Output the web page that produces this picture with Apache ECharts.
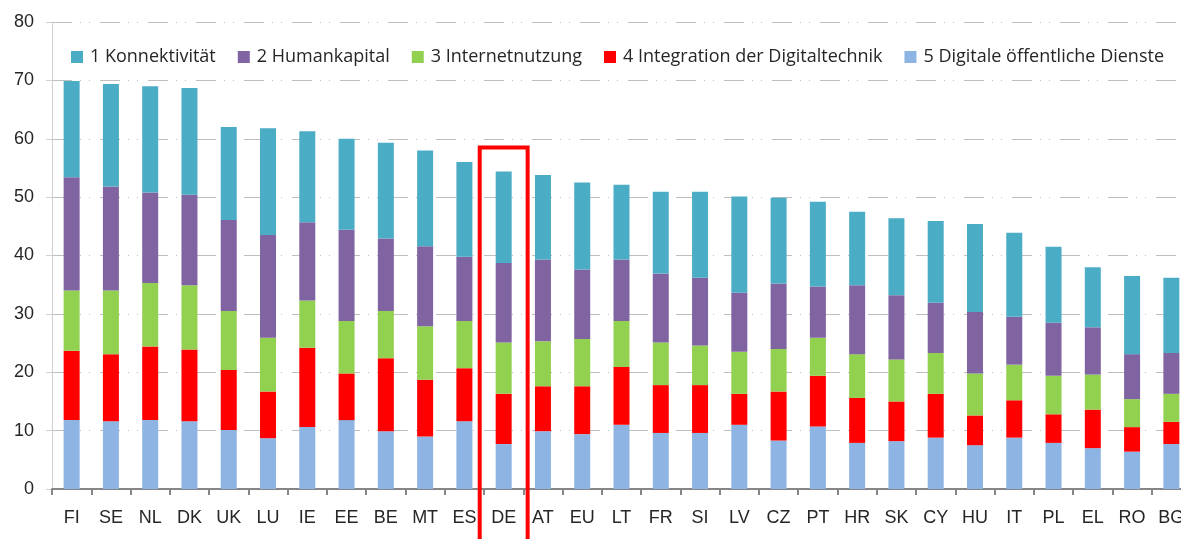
<!DOCTYPE html>
<html>
<head>
<meta charset="utf-8">
<script src="https://cdn.jsdelivr.net/npm/echarts@6/dist/echarts.min.js"></script>
<style>
  html, body { margin: 0; padding: 0; background: #fff; }
  #main { width: 1181px; height: 539px; }
</style>
</head>
<body>
<div id="main"></div>
<script>
// Länder (sortiert nach Gesamtwert)
var countries = ['FI','SE','NL','DK','UK','LU','IE','EE','BE','MT','ES','DE','AT','EU','LT','FR','SI','LV','CZ','PT','HR','SK','CY','HU','IT','PL','EL','RO','BG'];

// Werte je Dimension, von unten nach oben gestapelt
var dienste      = [11.8,11.6,11.8,11.6,10.1, 8.7,10.6,11.8, 9.9, 9.0,11.6, 7.7, 9.9, 9.4,11.0, 9.6, 9.6,11.0, 8.3,10.7, 7.9, 8.2, 8.8, 7.5, 8.8, 7.9, 7.0, 6.4, 7.7];
var integration  = [11.9,11.5,12.6,12.3,10.3, 8.0,13.6, 8.0,12.5, 9.7, 9.1, 8.6, 7.7, 8.2, 9.9, 8.2, 8.2, 5.3, 8.4, 8.7, 7.7, 6.8, 7.5, 5.1, 6.4, 4.9, 6.6, 4.2, 3.8];
var internet     = [10.3,10.9,10.9,11.0,10.1, 9.2, 8.1, 9.0, 8.1, 9.2, 8.1, 8.8, 7.7, 8.1, 7.9, 7.3, 6.8, 7.2, 7.3, 6.5, 7.5, 7.2, 7.0, 7.2, 6.1, 6.6, 6.0, 4.8, 4.8];
var humankapital = [19.4,17.8,15.5,15.5,15.6,17.6,13.4,15.6,12.4,13.7,11.0,13.6,14.0,11.9,10.5,11.8,11.6,10.1,11.2, 8.8,11.8,11.0, 8.6,10.5, 8.2, 9.1, 8.1, 7.7, 7.0];
var konnekt      = [16.5,17.6,18.2,18.3,15.9,18.3,15.6,15.6,16.4,16.4,16.2,15.7,14.5,14.9,12.8,14.0,14.7,16.5,14.7,14.5,12.6,13.2,14.0,15.1,14.4,13.0,10.3,13.4,12.9];

var names = ['1 Konnektivität','2 Humankapital','3 Internetnutzung','4 Integration der Digitaltechnik','5 Digitale öffentliche Dienste'];
var colors = ['#4BACC6','#8064A2','#92D050','#FF0000','#8DB4E2'];
var highlight = 'DE';

var font = 'Liberation Sans';

function bar(name, data, color) {
    return {
        name: name,
        type: 'bar',
        stack: 'gesamt',
        barWidth: 16,
        data: data,
        itemStyle: { color: color },
        emphasis: { disabled: true }
    };
}

var myChart = echarts.init(document.getElementById('main'));

var option = {
    animation: false,
    textStyle: { fontFamily: font },
    legend: {
        data: names,
        left: 66,
        top: 43,
        itemWidth: 12,
        itemHeight: 12,
        itemGap: 22,
        icon: 'rect',
        textStyle: { fontSize: 18, color: '#262626', fontFamily: 'Open Sans', padding: [0, 0, 0, 2] }
    },
    grid: {
        left: 52,
        top: 22,
        width: 1139,
        bottom: 50,
        outerBoundsMode: 'none'
    },
    xAxis: {
        type: 'category',
        data: countries,
        axisLine: { lineStyle: { color: '#868686', width: 2 } },
        axisTick: { show: true, length: 6, lineStyle: { color: '#868686', width: 2 } },
        axisLabel: { fontSize: 18, color: '#262626', margin: 20, interval: 0 }
    },
    yAxis: {
        type: 'value',
        min: 0,
        max: 80,
        interval: 10,
        axisLine: { show: true, lineStyle: { color: '#d0d0d0', width: 1 } },
        axisTick: { show: true, length: 6, lineStyle: { color: '#d0d0d0' } },
        axisLabel: { fontSize: 18, color: '#262626', margin: 18 },
        splitLine: { lineStyle: { color: '#bfbfbf', width: 1, type: [20, 8, 1, 8, 1, 10] } }
    },
    series: [
        bar(names[4], dienste, colors[4]),
        bar(names[3], integration, colors[3]),
        bar(names[2], internet, colors[2]),
        bar(names[1], humankapital, colors[1]),
        bar(names[0], konnekt, colors[0])
    ]
};

myChart.setOption(option);

// roter Rahmen um DE
var p = myChart.convertToPixel({ xAxisIndex: 0, yAxisIndex: 0 }, [highlight, 58.5]);
var band = myChart.getModel().getComponent('xAxis', 0).axis.getBandWidth();
var w = band * 1.22;
myChart.setOption({
    graphic: [{
        type: 'rect',
        shape: { x: p[0] - w / 2, y: p[1], width: w, height: 539 - p[1] + 10 },
        style: { fill: null, stroke: '#FF0000', lineWidth: 4 },
        z: 100
    }]
});
</script>
</body>
</html>
